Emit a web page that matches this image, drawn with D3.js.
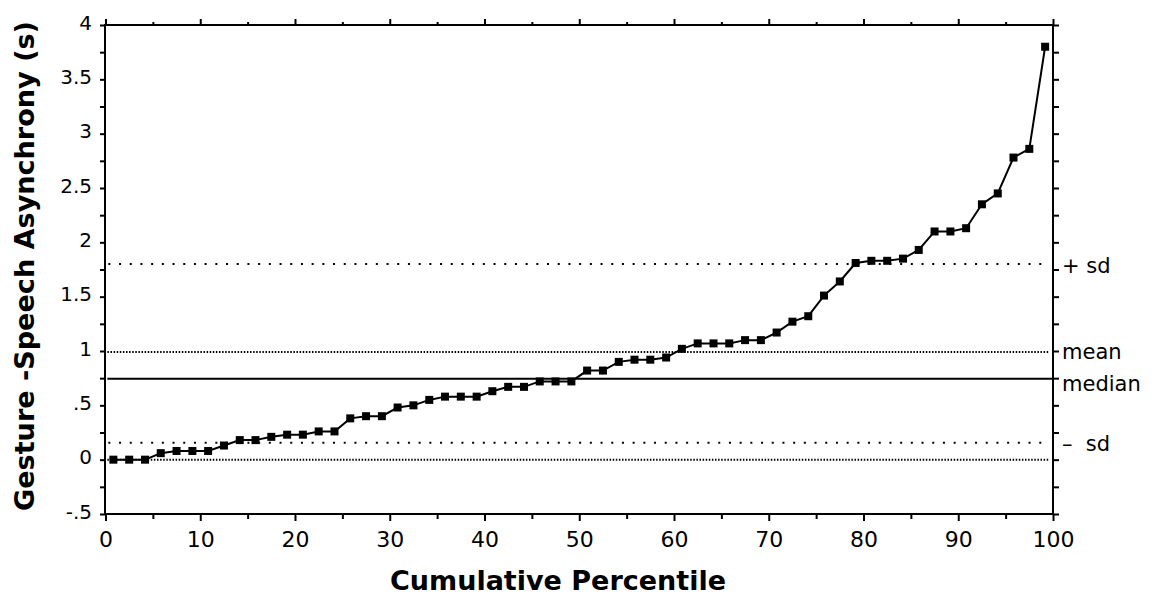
<!DOCTYPE html>
<html>
<head>
<meta charset="utf-8">
<script src="https://cdn.jsdelivr.net/npm/d3@7"></script>
<style>
  body { margin: 0; background: #fff; }
  svg { display: block; }
  .tick text { font-family: "DejaVu Sans", sans-serif; fill: #000; }
</style>
</head>
<body>
<script>
// percentile position of each observation (60 sorted asynchronies)
const percentiles = [
  0.83, 2.5, 4.17, 5.83, 7.5, 9.17, 10.83, 12.5, 14.17, 15.83,
  17.5, 19.17, 20.83, 22.5, 24.17, 25.83, 27.5, 29.17, 30.83, 32.5,
  34.17, 35.83, 37.5, 39.17, 40.83, 42.5, 44.17, 45.83, 47.5, 49.17,
  50.83, 52.5, 54.17, 55.83, 57.5, 59.17, 60.83, 62.5, 64.17, 65.83,
  67.5, 69.17, 70.83, 72.5, 74.17, 75.83, 77.5, 79.17, 80.83, 82.5,
  84.17, 85.83, 87.5, 89.17, 90.83, 92.5, 94.17, 95.83, 97.5, 99.17
];
// asynchrony in seconds
const asynchrony = [
  0.00, 0.00, 0.00, 0.06, 0.08, 0.08, 0.08, 0.13, 0.18, 0.18,
  0.21, 0.23, 0.23, 0.26, 0.26, 0.38, 0.40, 0.40, 0.48, 0.50,
  0.55, 0.58, 0.58, 0.58, 0.63, 0.67, 0.67, 0.72, 0.72, 0.72,
  0.82, 0.82, 0.90, 0.92, 0.92, 0.94, 1.02, 1.07, 1.07, 1.07,
  1.10, 1.10, 1.17, 1.27, 1.32, 1.51, 1.64, 1.81, 1.83, 1.83,
  1.85, 1.93, 2.10, 2.10, 2.13, 2.35, 2.45, 2.78, 2.86, 3.80
];

// reference lines
const refNames = ["zero", "minusSd", "median", "mean", "plusSd"];
const refValues = [0, 0.155, 0.745, 0.99, 1.80];
const refStyles = ["dense", "sparse", "solid", "dense", "sparse"];
const refLabels = ["", "\u2013  sd", "median", "mean", "+ sd"];

const xTicks = [0, 10, 20, 30, 40, 50, 60, 70, 80, 90, 100];
const xMinorTicks = [5, 15, 25, 35, 45, 55, 65, 75, 85, 95];
const yTicks = [-0.5, 0, 0.5, 1, 1.5, 2, 2.5, 3, 3.5, 4];
const yTickLabels = ["-.5", "0", ".5", "1", "1.5", "2", "2.5", "3", "3.5", "4"];
const yMinorTicks = [-0.25, 0.25, 0.75, 1.25, 1.75, 2.25, 2.75, 3.25, 3.75];

var width = 1156, height = 599;
var plotLeft = 105, plotRight = 1053, plotTop = 25, plotBottom = 514;

var svg = d3.select("body").append("svg")
  .attr("width", width)
  .attr("height", height);

let x = d3.scaleLinear().domain([0, 100]).range([plotLeft + 0.5, plotRight]);
let y = d3.scaleLinear().domain([-0.5, 4]).range([plotBottom, plotTop]);

// reference lines (drawn first, under the data)
refValues.forEach((v, i) => {
  let style = refStyles[i];
  let x1 = style == "sparse" ? x(0.3) : x(0.2);
  let x2 = style == "solid" ? x(100) : x(99.6);
  let ln = svg.append("line")
    .attr("class", "ref " + refNames[i])
    .attr("x1", x1).attr("x2", x2)
    .attr("y1", y(v)).attr("y2", y(v))
    .attr("stroke", "#000");
  if (style == "dense") {
    ln.attr("stroke-width", 2).attr("stroke-dasharray", "1.5,1.6");
  } else if (style == "sparse") {
    ln.attr("stroke-width", 2).attr("stroke-dasharray", "2,8.7");
  } else {
    ln.attr("stroke-width", 2);
  }
});

// labels for the reference lines on the right
const labelShift = { plusSd: 9, mean: 7, median: 12, minusSd: 8 };
refValues.forEach((v, i) => {
  if (!refLabels[i]) return;
  svg.append("text")
    .attr("x", plotRight + 9)
    .attr("y", y(v) + labelShift[refNames[i]])
    .attr("font-family", "DejaVu Sans, sans-serif")
    .attr("font-size", "21px")
    .style("white-space", "pre")
    .text(refLabels[i]);
});

// frame
svg.append("rect")
  .attr("x", plotLeft).attr("y", plotTop)
  .attr("width", plotRight - plotLeft).attr("height", plotBottom - plotTop)
  .attr("fill", "none")
  .attr("stroke", "#000")
  .attr("stroke-width", 2);

// bottom axis
let xAxis = svg.append("g")
  .attr("transform", "translate(0," + plotBottom + ")")
  .call(d3.axisBottom(x).tickValues(xTicks).tickSize(7).tickPadding(10).tickFormat(d3.format("d")));
xAxis.selectAll("text").attr("font-size", "22px");
svg.append("g")
  .attr("transform", "translate(0," + plotBottom + ")")
  .call(d3.axisBottom(x).tickValues(xMinorTicks).tickSize(5).tickFormat(""));

// top axis, ticks only
svg.append("g")
  .attr("transform", "translate(0," + plotTop + ")")
  .call(d3.axisTop(x).tickValues(xTicks).tickSize(6).tickFormat(""));
svg.append("g")
  .attr("transform", "translate(0," + plotTop + ")")
  .call(d3.axisTop(x).tickValues(xMinorTicks).tickSize(3).tickFormat(""));

// left axis
let yAxis = svg.append("g")
  .attr("transform", "translate(" + plotLeft + ",0)")
  .call(d3.axisLeft(y).tickValues(yTicks).tickSize(5).tickPadding(8)
    .tickFormat((d, i) => yTickLabels[i]));
yAxis.selectAll("text").attr("font-size", "20px").attr("dy", "0.2em");
svg.append("g")
  .attr("transform", "translate(" + plotLeft + ",0)")
  .call(d3.axisLeft(y).tickValues(yMinorTicks).tickSize(5).tickFormat(""));

// right axis, ticks only
svg.append("g")
  .attr("transform", "translate(" + plotRight + ",0)")
  .call(d3.axisRight(y).tickValues(yTicks.concat(yMinorTicks)).tickSize(6).tickFormat(""));

svg.selectAll(".domain").remove();
svg.selectAll(".tick line").attr("stroke", "#000").attr("stroke-width", 2);

// data line
let points = percentiles.map((p, i) => [p, asynchrony[i]]);
svg.append("path")
  .datum(points)
  .attr("d", d3.line().x(d => x(d[0])).y(d => y(d[1])))
  .attr("fill", "none")
  .attr("stroke", "#000")
  .attr("stroke-width", 2);

svg.selectAll(".marker")
  .data(points)
  .enter()
  .append("rect")
  .attr("class", "marker")
  .attr("x", d => x(d[0]) - 4)
  .attr("y", d => y(d[1]) - 4)
  .attr("width", 8)
  .attr("height", 8)
  .attr("fill", "#000");

// axis titles
svg.append("text")
  .attr("x", 558)
  .attr("y", 590)
  .attr("text-anchor", "middle")
  .attr("font-family", "DejaVu Sans, sans-serif")
  .attr("font-weight", "bold")
  .attr("font-size", "27px")
  .attr("textLength", 336)
  .attr("lengthAdjust", "spacingAndGlyphs")
  .text("Cumulative Percentile");

svg.append("text")
  .attr("transform", "translate(34,266) rotate(-90)")
  .attr("text-anchor", "middle")
  .attr("font-family", "DejaVu Sans, sans-serif")
  .attr("font-weight", "bold")
  .attr("font-size", "27px")
  .attr("textLength", 490)
  .attr("lengthAdjust", "spacingAndGlyphs")
  .text("Gesture -Speech Asynchrony (s)");
</script>
</body>
</html>
